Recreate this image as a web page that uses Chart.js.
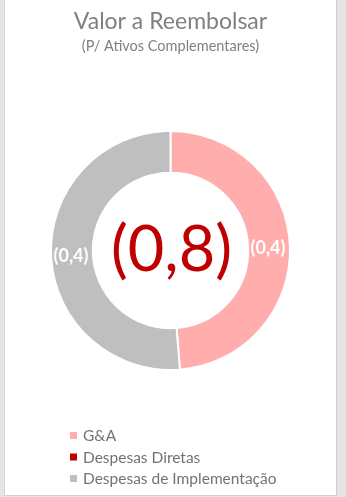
<!DOCTYPE html>
<html>
<head>
<meta charset="utf-8">
<script src="https://cdn.jsdelivr.net/npm/chart.js@4/dist/chart.umd.min.js"></script>
<style>
  html, body { margin: 0; padding: 0; }
  body { width: 346px; height: 497px; background: #e4e4e4; position: relative; overflow: hidden; }
  #panel {
    position: absolute; left: 4px; top: 0; width: 331px; height: 495px;
    background: #ffffff;
    border-left: 1px solid #d6d6d6; border-right: 1px solid #d0d0d0; border-bottom: 1px solid #d0d0d0;
  }
  canvas { display: block; }
</style>
</head>
<body>
<div id="panel"><canvas id="chart" width="331" height="495"></canvas></div>
<script>
// Amounts to reimburse (millions), accounting style: negatives shown in parentheses
const categories = ['G&A', 'Despesas Diretas', 'Despesas de Implementação'];
const values = [-0.39, 0, -0.41];
const colors = ['#ffadad', '#c00000', '#bfbfbf'];
const titleText = 'Valor a Reembolsar';
const subtitleText = '(P/ Ativos Complementares)';

const FONT = 'Lato, "Open Sans", sans-serif';

function fmt(v) {
  const s = Math.abs(v).toFixed(1).replace('.', ',');
  return v < 0 ? '(' + s + ')' : s;
}

// White value labels on each non-empty slice, plus the total in the hole
const sliceLabels = {
  id: 'sliceLabels',
  afterDatasetsDraw(chart) {
    const ctx = chart.ctx;
    const meta = chart.getDatasetMeta(0);
    const data = chart.data.datasets[0].data;
    ctx.save();
    ctx.fillStyle = '#ffffff';
    ctx.font = 'bold 18px ' + FONT;
    ctx.textAlign = 'center';
    ctx.textBaseline = 'middle';
    meta.data.forEach((arc, i) => {
      if (!data[i]) return;
      const p = arc.tooltipPosition();
      ctx.fillText(fmt(data[i]), p.x - 1, p.y + 2);
    });
    const total = data.reduce((a, b) => a + b, 0);
    const c = meta.data[0];
    ctx.fillStyle = '#c00000';
    ctx.font = '63px ' + FONT;
    ctx.textBaseline = 'alphabetic';
    ctx.fillText(fmt(total), c.x + 1, c.y + 20);
    ctx.restore();
  }
};

// Vertical legend list under the ring
const listLegend = {
  id: 'listLegend',
  afterDraw(chart) {
    const ctx = chart.ctx;
    ctx.save();
    ctx.font = '15.5px ' + FONT;
    ctx.textBaseline = 'middle';
    ctx.textAlign = 'left';
    categories.forEach((name, i) => {
      const y = 436 + i * 21.5;
      ctx.fillStyle = colors[i];
      ctx.fillRect(65, y - 4, 7, 7);
      ctx.fillStyle = '#737373';
      ctx.fillText(name, 78, y);
    });
    ctx.restore();
  }
};

new Chart(document.getElementById('chart'), {
  type: 'doughnut',
  data: {
    labels: categories,
    datasets: [{
      data: values,
      backgroundColor: colors,
      borderColor: '#ffffff',
      borderWidth: 2
    }]
  },
  options: {
    responsive: false,
    animation: false,
    cutout: '65%',
    layout: { padding: { bottom: 124 } },
    plugins: {
      legend: { display: false },
      tooltip: { enabled: false },
      title: {
        display: true,
        text: titleText,
        color: '#808080',
        font: { family: FONT, size: 23, weight: 'normal' },
        padding: { top: 8, bottom: 0 }
      },
      subtitle: {
        display: true,
        text: subtitleText,
        color: '#808080',
        font: { family: FONT, size: 14.5, weight: 'normal' },
        padding: { top: 2, bottom: 75 }
      }
    }
  },
  plugins: [sliceLabels, listLegend]
});
</script>
</body>
</html>
